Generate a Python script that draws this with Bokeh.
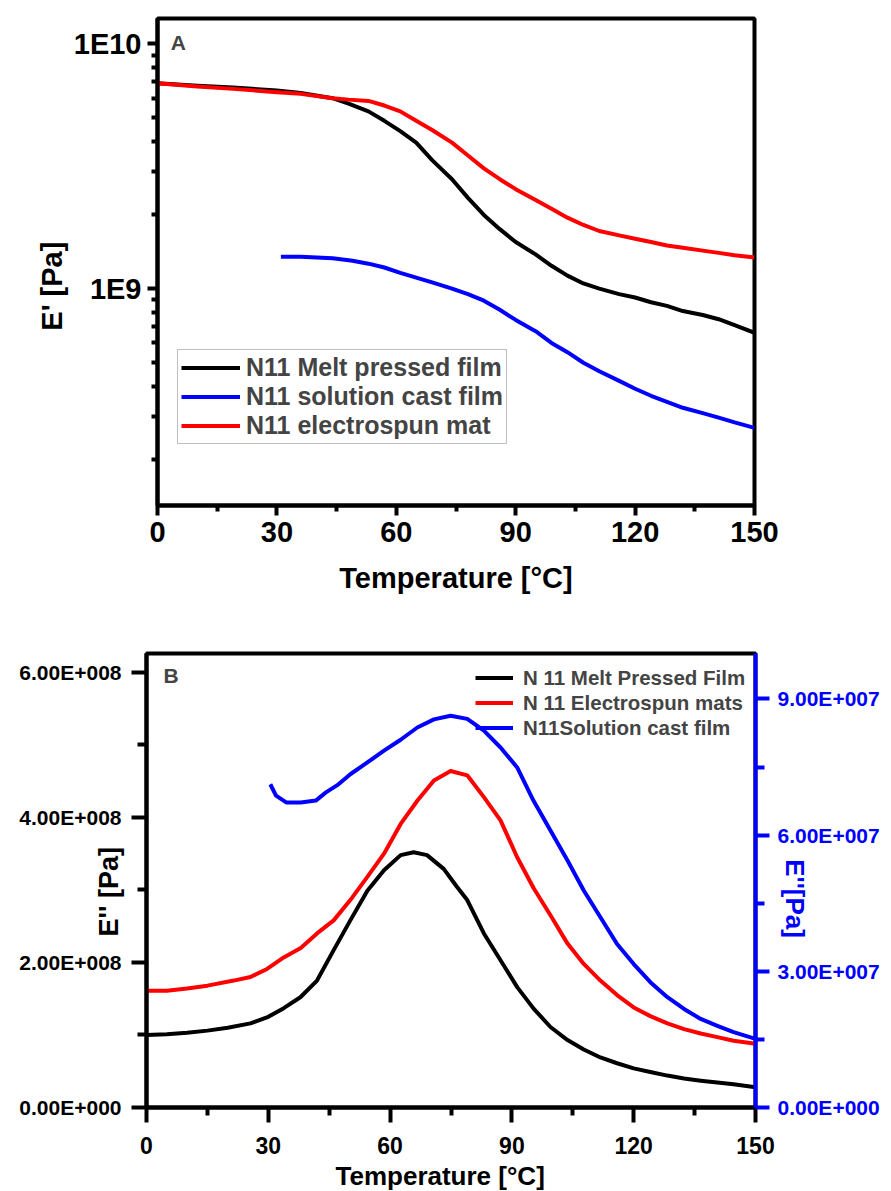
import numpy as np
from bokeh.plotting import figure
from bokeh.models import Range1d, LinearAxis, FixedTicker, Label, Legend, LegendItem
from bokeh.embed import file_html
from bokeh.resources import INLINE

FONT = "Liberation Sans"
BLACK = "#000000"
RED = "#ff0000"
BLUE = "#0000ff"
NB = "\u00a0"  # non-breaking space, used only to nudge axis-title positions

# ---------------- Panel A data: storage modulus E' (log) ----------------
tA_melt = [0, 10, 19, 30, 36, 44, 48, 53, 57, 61, 65, 69, 74, 78, 82, 86, 90, 95, 99,
           103, 107, 111, 116, 120, 124, 128, 132, 137, 141, 145, 150]
eA_melt = [6.9e9, 6.75e9, 6.64e9, 6.45e9, 6.3e9, 6.0e9, 5.7e9, 5.3e9, 4.85e9, 4.4e9,
           3.95e9, 3.35e9, 2.8e9, 2.35e9, 2.0e9, 1.75e9, 1.55e9, 1.38e9, 1.24e9, 1.13e9,
           1.05e9, 1.0e9, 0.95e9, 0.92e9, 0.88e9, 0.85e9, 0.81e9, 0.78e9, 0.75e9,
           0.71e9, 0.66e9]

tA_sol = [31, 36, 40, 44, 49, 53, 57, 61, 65, 69, 74, 78, 82, 86, 90, 95, 99, 103,
          107, 111, 116, 120, 124, 128, 132, 137, 141, 145, 150]
eA_sol = [1.35e9, 1.35e9, 1.34e9, 1.33e9, 1.30e9, 1.265e9, 1.22e9, 1.16e9, 1.11e9,
          1.06e9, 1.0e9, 0.95e9, 0.893e9, 0.82e9, 0.745e9, 0.67e9, 0.60e9, 0.55e9,
          0.498e9, 0.46e9, 0.42e9, 0.39e9, 0.365e9, 0.345e9, 0.326e9, 0.31e9, 0.297e9,
          0.284e9, 0.27e9]

tA_elec = [0, 10, 19, 30, 36, 44, 48, 53, 57, 61, 65, 69, 74, 78, 82, 86, 90, 95, 99,
           103, 107, 111, 116, 120, 124, 128, 132, 137, 141, 145, 150]
eA_elec = [6.9e9, 6.7e9, 6.55e9, 6.35e9, 6.25e9, 6.0e9, 5.92e9, 5.85e9, 5.6e9, 5.3e9,
           4.85e9, 4.45e9, 3.95e9, 3.5e9, 3.1e9, 2.8e9, 2.55e9, 2.3e9, 2.12e9, 1.95e9,
           1.82e9, 1.72e9, 1.65e9, 1.6e9, 1.55e9, 1.5e9, 1.47e9, 1.43e9, 1.40e9, 1.37e9,
           1.34e9]

labelsA = ["N11 Melt pressed film", "N11 solution cast film", "N11 electrospun mat"]
xticksA = [0, 30, 60, 90, 120, 150]
xminorA = [15, 45, 75, 105, 135]
yticksA = [1e9, 1e10]
ytick_labelsA = ["1E9", "1E10"]
yminorA = [2e8, 3e8, 4e8, 5e8, 6e8, 7e8, 8e8, 9e8,
           2e9, 3e9, 4e9, 5e9, 6e9, 7e9, 8e9, 9e9]

# ---------------- Panel B data: loss modulus E'' ----------------
tB_melt = [0, 5, 10, 15, 20, 25.6, 30, 33.8, 37.9, 42, 46.1, 50.2, 54.4, 58.5, 62.6,
           65.8, 69.1, 73.2, 76.5, 79, 83.1, 87.2, 91.3, 95.4, 99.5, 103.7, 107.7,
           111.8, 115.9, 120, 124.1, 128.3, 132.4, 136.5, 140.6, 144.6, 150]
eB_melt = [1.0e8, 1.01e8, 1.03e8, 1.06e8, 1.10e8, 1.16e8, 1.25e8, 1.37e8, 1.52e8,
           1.75e8, 2.17e8, 2.58e8, 2.99e8, 3.27e8, 3.48e8, 3.52e8, 3.48e8, 3.29e8,
           3.04e8, 2.86e8, 2.40e8, 2.03e8, 1.66e8, 1.36e8, 1.11e8, 0.93e8, 0.80e8,
           0.69e8, 0.61e8, 0.54e8, 0.49e8, 0.44e8, 0.40e8, 0.37e8, 0.345e8, 0.32e8,
           0.28e8]

tB_elec = [0, 5, 10, 15, 21.5, 25.6, 29.7, 33.8, 38, 42, 46.1, 50.2, 54.4, 58.5, 62.6,
           66.7, 70.8, 74.9, 79, 83.1, 87.2, 91.3, 95.4, 99.5, 103.7, 107.7, 111.8,
           115.9, 120, 124.1, 128.3, 132.4, 136.5, 140.6, 144.6, 150]
eB_elec = [1.61e8, 1.61e8, 1.64e8, 1.68e8, 1.75e8, 1.80e8, 1.91e8, 2.07e8, 2.2e8,
           2.40e8, 2.58e8, 2.86e8, 3.18e8, 3.50e8, 3.91e8, 4.23e8, 4.51e8, 4.64e8,
           4.58e8, 4.28e8, 3.96e8, 3.45e8, 3.02e8, 2.65e8, 2.26e8, 1.98e8, 1.75e8,
           1.55e8, 1.38e8, 1.26e8, 1.16e8, 1.08e8, 1.02e8, 0.97e8, 0.92e8, 0.88e8]

tB_sol = [30.5, 31.9, 34.4, 38, 41.7, 44.2, 47, 50.2, 54.4, 58.5, 62.6, 66.7, 70.8,
          74.9, 79, 83.1, 87.2, 91.3, 95.3, 99.5, 103.7, 107.7, 111.8, 115.9, 120,
          124.1, 128.3, 132.4, 136.5, 140.6, 144.6, 150]
eB_sol = [7.12e7, 6.87e7, 6.72e7, 6.72e7, 6.76e7, 6.94e7, 7.1e7, 7.34e7, 7.6e7, 7.86e7,
          8.1e7, 8.37e7, 8.55e7, 8.63e7, 8.56e7, 8.30e7, 7.93e7, 7.49e7, 6.76e7,
          6.10e7, 5.44e7, 4.78e7, 4.19e7, 3.60e7, 3.16e7, 2.76e7, 2.43e7, 2.17e7,
          1.95e7, 1.80e7, 1.66e7, 1.51e7]

labelsB = ["N 11 Melt Pressed Film", "N 11 Electrospun mats", "N11Solution cast film"]
xticksB = [0, 30, 60, 90, 120, 150]
xminorB = [15, 45, 75, 105, 135]
yticksB = [0, 2e8, 4e8, 6e8]
ytick_labelsB = ["0.00E+000", "2.00E+008", "4.00E+008", "6.00E+008"]
yminorB = [1e8, 3e8, 5e8]
yticksB2 = [0, 3e7, 6e7, 9e7]
ytick_labelsB2 = ["0.00E+000", "3.00E+007", "6.00E+007", "9.00E+007"]
yminorB2 = [1.5e7, 4.5e7, 7.5e7]


def style_axis(ax, color, font_size, tick_out, minor_out, standoff,
               label=None, label_size="27px", label_standoff=5):
    ax.axis_line_color = color
    ax.axis_line_width = 4
    ax.major_tick_line_color = color
    ax.major_tick_line_width = 4
    ax.minor_tick_line_color = color
    ax.minor_tick_line_width = 4
    ax.major_tick_in = 0
    ax.minor_tick_in = 0
    ax.major_tick_out = tick_out
    ax.minor_tick_out = minor_out
    ax.major_label_text_font = FONT
    ax.major_label_text_font_style = "bold"
    ax.major_label_text_font_size = font_size
    ax.major_label_text_color = color
    ax.major_label_text_line_height = 1.0
    ax.major_label_standoff = standoff
    ax.axis_label = label
    ax.axis_label_text_font = FONT
    ax.axis_label_text_font_style = "bold"
    ax.axis_label_text_font_size = label_size
    ax.axis_label_text_color = color
    ax.axis_label_text_line_height = 1.0
    ax.axis_label_standoff = label_standoff


# ======================= Panel A =======================
pA = figure(frame_width=597, frame_height=487, x_range=Range1d(0, 150),
            y_range=Range1d(1.3e8, 1.27e10), y_axis_type="log",
            output_backend="svg", toolbar_location=None, title=None,
            min_border_left=157, min_border_right=137,
            min_border_top=18, min_border_bottom=105)
pA.xgrid.visible = False
pA.ygrid.visible = False
pA.outline_line_color = BLACK
pA.outline_line_width = 4
pA.background_fill_color = "white"
pA.border_fill_color = "white"

rA1 = pA.line(tA_melt, eA_melt, line_color=BLACK, line_width=4, line_join="round")
rA2 = pA.line(tA_sol, eA_sol, line_color=BLUE, line_width=4, line_join="round")
rA3 = pA.line(tA_elec, eA_elec, line_color=RED, line_width=4, line_join="round")

xa = pA.xaxis[0]
xa.ticker = FixedTicker(ticks=xticksA, minor_ticks=xminorA)
style_axis(xa, BLACK, "29px", 10, 6, 6, label="Temperature [°C]",
           label_size="29px", label_standoff=17)
ya = pA.yaxis[0]
ya.ticker = FixedTicker(ticks=yticksA, minor_ticks=yminorA)
ya.major_label_overrides = {v: s for v, s in zip(yticksA, ytick_labelsA)}
style_axis(ya, BLACK, "29px", 10, 6, 6, label="E' [Pa]" + NB * 6,
           label_size="29px", label_standoff=3)

legA = Legend(items=[LegendItem(label=labelsA[0], renderers=[rA1]),
                     LegendItem(label=labelsA[1], renderers=[rA2]),
                     LegendItem(label=labelsA[2], renderers=[rA3])],
              location=(20, 61), orientation="vertical",
              border_line_color="#808080", border_line_width=1,
              background_fill_color="white", background_fill_alpha=1,
              padding=3, spacing=0, margin=0,
              glyph_width=59, glyph_height=29, label_height=29, label_standoff=6,
              label_text_font=FONT, label_text_font_style="bold",
              label_text_font_size="25px")
pA.add_layout(legA)

pA.add_layout(Label(x=3.3, y=1.125e10, text="A", text_font=FONT,
                    text_font_style="bold", text_font_size="21px",
                    text_align="left", text_baseline="top"))

# ======================= Panel B =======================
pB = figure(frame_width=609, frame_height=454, x_range=Range1d(0, 150),
            y_range=Range1d(0, 6.26e8),
            output_backend="svg", toolbar_location=None, title=None,
            min_border_left=146, min_border_right=136,
            min_border_top=43, min_border_bottom=84)
pB.extra_y_ranges = {"right": Range1d(0, 1.0e8)}
pB.xgrid.visible = False
pB.ygrid.visible = False
pB.outline_line_color = BLACK
pB.outline_line_width = 4
pB.background_fill_color = "white"
pB.border_fill_color = "white"

rB1 = pB.line(tB_melt, eB_melt, line_color=BLACK, line_width=4, line_join="round")
rB2 = pB.line(tB_elec, eB_elec, line_color=RED, line_width=4, line_join="round")
rB3 = pB.line(tB_sol, eB_sol, line_color=BLUE, line_width=4, line_join="round",
              y_range_name="right")

xb = pB.xaxis[0]
xb.ticker = FixedTicker(ticks=xticksB, minor_ticks=xminorB)
style_axis(xb, BLACK, "23px", 15, 8, 14, label="Temperature [°C]" + NB * 3,
           label_size="26px", label_standoff=4)
yb = pB.yaxis[0]
yb.ticker = FixedTicker(ticks=yticksB, minor_ticks=yminorB)
yb.major_label_overrides = {v: s for v, s in zip(yticksB, ytick_labelsB)}
style_axis(yb, BLACK, "21px", 15, 9, 10, label="E'' [Pa]" + NB * 3,
           label_size="27px", label_standoff=-108)

yb2 = LinearAxis(y_range_name="right")
yb2.ticker = FixedTicker(ticks=yticksB2, minor_ticks=yminorB2)
yb2.major_label_overrides = {v: s for v, s in zip(yticksB2, ytick_labelsB2)}
style_axis(yb2, BLUE, "21px", 14, 9, 8, label=NB * 5 + "E''[Pa]",
           label_size="26px", label_standoff=-103)
pB.add_layout(yb2, "right")

legB = Legend(items=[LegendItem(label=labelsB[0], renderers=[rB1]),
                     LegendItem(label=labelsB[1], renderers=[rB2]),
                     LegendItem(label=labelsB[2], renderers=[rB3])],
              location=(327, 365), orientation="vertical",
              border_line_alpha=0, background_fill_alpha=0,
              padding=2, spacing=0, margin=0,
              glyph_width=38, glyph_height=25, label_height=25, label_standoff=10,
              label_text_font=FONT, label_text_font_style="bold",
              label_text_font_size="20.5px")
pB.add_layout(legB)

pB.add_layout(Label(x=4.2, y=6.12e8, text="B", text_font=FONT,
                    text_font_style="bold", text_font_size="21px",
                    text_align="left", text_baseline="top"))

open("out.html", "w").write(file_html([pA, pB], INLINE))
